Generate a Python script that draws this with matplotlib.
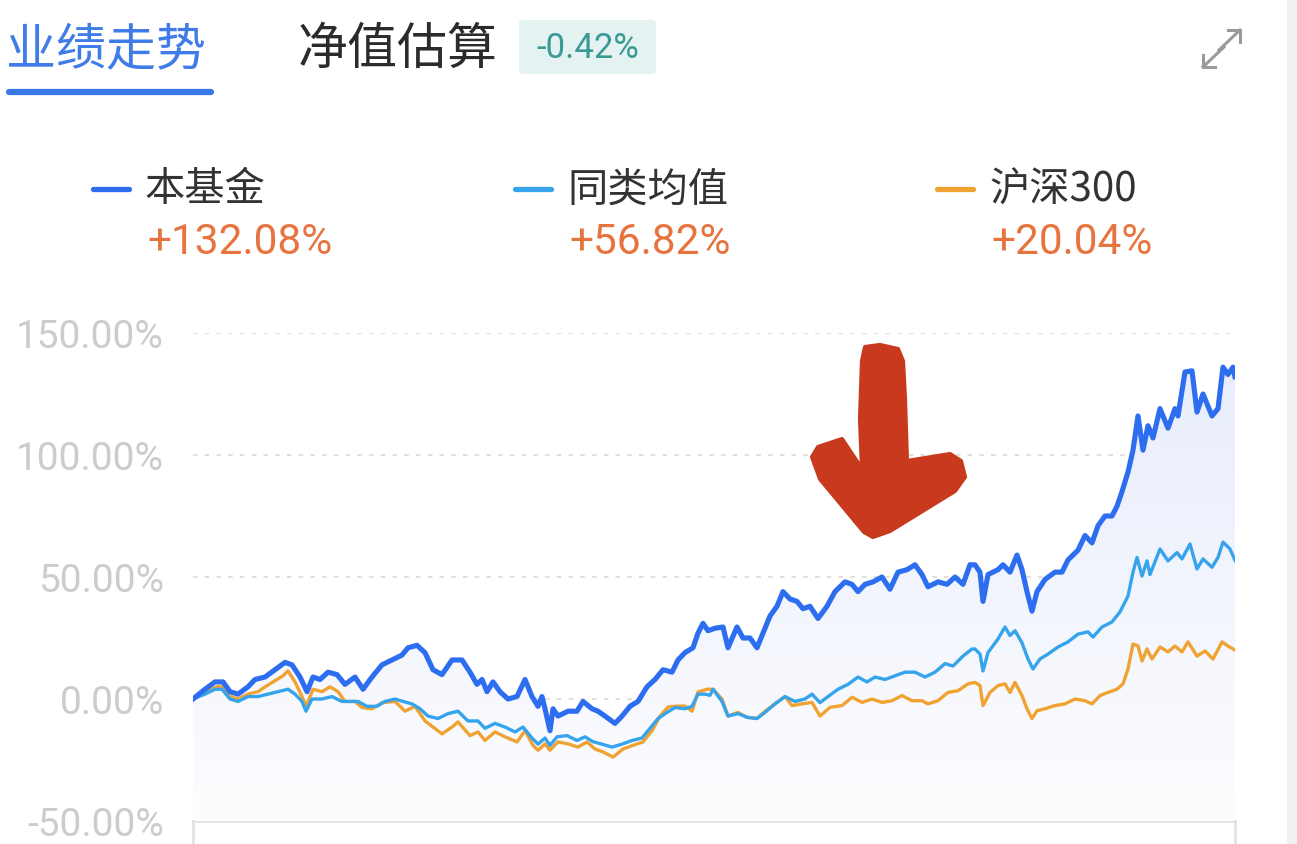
import numpy as np
import matplotlib.pyplot as plt
from matplotlib.colors import LinearSegmentedColormap
from matplotlib.patches import FancyBboxPatch, Polygon
from matplotlib.lines import Line2D

plt.rcParams['font.family'] = ['Noto Sans CJK SC', 'DejaVu Sans']

# (trading day, cumulative return %)
fund = [(0, 0), (12, 4), (22, 7), (30, 7), (37, 3), (45, 2), (55, 5), (62, 8), (72, 9), (82, 12),
        (92, 15), (99, 14), (107, 9), (114, 3), (120, 9), (127, 8), (135, 11), (144, 10), (152, 6),
        (162, 9), (170, 4), (179, 9), (189, 14), (199, 16), (209, 18), (215, 21), (224, 22), (232, 19),
        (240, 12), (249, 10), (259, 16), (269, 16), (277, 11), (284, 6), (289, 8), (294, 3), (300, 7),
        (307, 3), (315, 0), (324, 1), (332, 8), (339, 1), (345, -3), (349, 1), (352, -4), (357, -13),
        (360, -4), (365, -7), (375, -5), (384, -5), (390, -1), (399, -4), (405, -5), (412, -7),
        (422, -10), (429, -7), (437, -3), (445, -1), (454, 5), (462, 8), (470, 12), (479, 11),
        (485, 16), (492, 19), (500, 21), (505, 27), (510, 31), (515, 28), (522, 29), (530, 29.5),
        (535, 21), (544, 29.5), (550, 25), (557, 25), (564, 21), (570, 27), (577, 34), (584, 38),
        (590, 44), (597, 41), (604, 40), (610, 37), (617, 38), (625, 33), (634, 38), (642, 44),
        (652, 48), (659, 47), (665, 44), (672, 47), (680, 48), (689, 50), (697, 45), (705, 52),
        (714, 53), (722, 55), (729, 51), (735, 46), (745, 48), (754, 47), (762, 50), (770, 47),
        (777, 55), (782, 55), (787, 52), (790, 40), (795, 51), (805, 53), (810, 55), (817, 52),
        (824, 59), (829, 53), (834, 44), (839, 36), (844, 44), (852, 49), (862, 52), (869, 52),
        (875, 57), (885, 61), (892, 67), (899, 64), (905, 71), (912, 75), (919, 75), (924, 79),
        (929, 85), (935, 93), (940, 102), (945, 116), (950, 102), (955, 112), (960, 107), (967, 119),
        (975, 111), (982, 119), (985, 116), (992, 134), (999, 134.5), (1004, 117.6), (1010, 125),
        (1019, 116), (1025, 119), (1030, 136), (1035, 133), (1040, 136), (1042, 132.08)]

peer_avg = [(0, 0), (12, 2), (22, 4), (29, 4), (37, 0), (45, -1), (55, 1), (65, 1), (75, 2), (85, 3),
            (95, 4), (102, 2), (109, -1), (113, -5), (119, 0), (129, 0), (139, 1), (149, -1), (159, -1),
            (165, -1), (174, -3), (184, -3), (192, -1), (202, 0), (210, -1), (219, -2), (227, -4),
            (235, -7), (245, -8), (255, -6), (265, -5), (275, -9), (285, -9), (292, -12), (302, -10),
            (312, -11.5), (322, -13.5), (330, -11.5), (339, -16), (345, -18.5), (352, -16), (357, -19),
            (364, -15.5), (374, -15), (384, -17), (392, -15.5), (400, -17.5), (409, -18.5), (419, -19.7),
            (429, -18.5), (439, -17), (449, -16), (457, -12), (465, -8), (474, -5.5), (482, -3.5),
            (492, -4), (499, -3), (505, 2), (512, 2), (517, 1.5), (520, 4), (529, -1), (535, -7),
            (545, -6), (554, -7.5), (564, -8), (572, -5.5), (582, -2), (592, 1), (602, -1), (612, 0),
            (619, 2), (627, -1.5), (635, 1), (645, 4), (655, 6), (665, 9), (674, 7), (682, 9), (692, 8),
            (702, 9.5), (712, 11), (722, 11), (732, 9), (742, 11), (752, 14.5), (760, 13.5), (770, 17.6),
            (779, 20.5), (782, 20.5), (787, 18.4), (790, 11.5), (795, 19), (805, 24.6), (812, 29.5),
            (817, 26), (822, 28), (829, 23), (835, 16.4), (840, 12.3), (847, 16.4), (855, 18.4),
            (865, 21.3), (875, 23.4), (885, 26.6), (895, 27.5), (900, 25.4), (909, 29.5), (919, 31.6),
            (927, 35.7), (935, 42.2), (940, 52), (944, 58), (949, 50.4), (954, 56.6), (957, 51),
            (967, 61.5), (975, 56.6), (984, 60), (989, 57.4), (997, 63.5), (1004, 53.3), (1010, 57.4),
            (1019, 54), (1025, 58), (1030, 64.3), (1037, 61.5), (1042, 56.82)]

hs300 = [(0, 0), (12, 3), (24, 5), (30, 5), (37, 1), (45, 0), (55, 2), (65, 3), (74, 5.5), (82, 7.5),
         (90, 9.5), (95, 11.5), (102, 7), (109, 1), (113, -3), (120, 4), (129, 3), (137, 5), (145, 3),
         (152, -1), (162, -1), (169, -3.5), (179, -4), (189, -1.5), (202, -1), (212, -5), (222, -3),
         (232, -9), (240, -11.5), (249, -14.3), (259, -11.5), (265, -9.4), (277, -15), (285, -13.5),
         (292, -17), (302, -13.5), (312, -15.5), (324, -17.6), (332, -13), (340, -19), (345, -21),
         (352, -18.4), (357, -21), (365, -17.6), (375, -18.4), (385, -19.7), (394, -17.6), (402, -20.5),
         (410, -21.7), (420, -23.8), (430, -20.5), (440, -19), (450, -17.6), (459, -13), (467, -7),
         (475, -3.3), (484, -2.9), (492, -2.9), (499, -5), (505, 2.9), (514, 4), (520, 4), (529, 0),
         (535, -7), (545, -5.5), (554, -7.5), (564, -8), (572, -5), (584, -1.4), (592, 1), (599, -2.7),
         (609, -2), (619, -1.4), (627, -7), (637, -3.4), (649, -2.7), (659, 0.7), (669, -1.4), (679, 0),
         (689, -1.4), (699, -0.7), (709, 1.4), (719, -0.7), (729, -0.7), (735, -2), (745, -0.7),
         (755, 2.7), (765, 3.4), (775, 6.2), (782, 6.8), (787, 5.5), (790, -2.7), (797, 2.7), (805, 5.5),
         (812, 6.2), (817, 2.7), (822, 6.8), (829, 1.4), (834, -4), (839, -8), (844, -4.8), (852, -4),
         (862, -2.7), (872, -2), (882, 0), (892, -0.7), (899, -2), (907, 1.4), (915, 2.7), (924, 4),
         (930, 6.2), (935, 12.3), (940, 22.5), (945, 21.8), (949, 15.6), (954, 20.5), (959, 16.4),
         (967, 21.3), (975, 19.3), (982, 21.7), (989, 19.3), (995, 23.4), (1004, 17.6), (1012, 19.7),
         (1020, 16.4), (1029, 23.4), (1035, 21.7), (1042, 20.04)]

names = ['本基金', '同类均值', '沪深300']
totals = ['+132.08%', '+56.82%', '+20.04%']
colors = ['#2d6df0', '#35a4ec', '#f0a232']
yticks = [-50, 0, 50, 100, 150]
ytick_labels = ['-50.00%', '0.00%', '50.00%', '100.00%', '150.00%']

W, H = 1297, 845
fig = plt.figure(figsize=(W / 100, H / 100), dpi=100)
fig.patch.set_facecolor('white')


def fx(px):
    return px / W


def fy(py):
    return 1 - py / H


ax = fig.add_axes([fx(193), fy(822), fx(1235) - fx(193), fy(334) - fy(822)])
ax.set_xlim(0, 1042)
ax.set_ylim(-50, 150)
for s in ax.spines.values():
    s.set_visible(False)
ax.set_xticks([])
ax.set_yticks(yticks)
ax.set_yticklabels(ytick_labels, fontfamily='Roboto', fontsize=28, color='#cccccc')
ax.tick_params(axis='y', length=0, pad=21)
for v in yticks[1:]:
    ax.axhline(v, color='#dcdcdc', lw=1.3, ls=(0, (2.5, 4)), zorder=0)
ax.axhline(-50, color='#e3e3e6', lw=2, zorder=0, clip_on=False)

fx_t, fx_v = zip(*fund)
pa_t, pa_v = zip(*peer_avg)
hs_t, hs_v = zip(*hs300)

# gradient fill under the fund line
cmap = LinearSegmentedColormap.from_list('fill', ['#fdfdff', '#e7edfb'])
poly = ax.fill_between(fx_t, fx_v, -50, color='none')
grad = np.linspace(0, 1, 256).reshape(-1, 1)
img = ax.imshow(grad, cmap=cmap, aspect='auto', extent=[0, 1042, -50, 140], origin='lower', zorder=1)
img.set_clip_path(poly.get_paths()[0], transform=ax.transData)

ax.plot(hs_t, hs_v, color=colors[2], lw=2.4, zorder=3, solid_joinstyle='round')
ax.plot(pa_t, pa_v, color=colors[1], lw=2.4, zorder=4, solid_joinstyle='round')
ax.plot(fx_t, fx_v, color=colors[0], lw=3.7, zorder=5, solid_joinstyle='round')

# small end ticks on the bottom axis
for px in (193, 1235):
    fig.add_artist(Line2D([fx(px), fx(px)], [fy(822), fy(845)], color='#e3e3e6', lw=2))

# header tabs
fig.text(fx(6), fy(50), '业绩走势', fontsize=36, color='#3f7ce8', va='center', ha='left')
fig.add_artist(Line2D([fx(9), fx(211)], [fy(93), fy(93)], color='#3a78e6', lw=4.5,
                      solid_capstyle='round'))
fig.text(fx(298), fy(50), '净值估算', fontsize=36, color='#2b2b2b', va='center', ha='left')
badge = FancyBboxPatch((fx(519), fy(75)), fx(656) - fx(519), fy(21) - fy(75),
                       boxstyle='round,pad=0,rounding_size=0.004', transform=fig.transFigure,
                       facecolor='#e4f2f2', edgecolor='none')
fig.add_artist(badge)
fig.text(fx(588), fy(49), '-0.42%', fontfamily='Roboto', fontsize=25, color='#3a9a95',
         va='center', ha='center')

# expand icon
icon = '#9a9a9a'
fig.add_artist(Line2D([fx(1219), fx(1240)], [fy(51), fy(31)], color=icon, lw=2.2))
fig.add_artist(Line2D([fx(1228), fx(1240), fx(1240)], [fy(31), fy(31), fy(43)], color=icon, lw=2.2))
fig.add_artist(Line2D([fx(1203), fx(1224)], [fy(68), fy(48)], color=icon, lw=2.2))
fig.add_artist(Line2D([fx(1203), fx(1203), fx(1215)], [fy(56), fy(68), fy(68)], color=icon, lw=2.2))

# legend
leg_x = [93, 515, 937]
for lx, name, total, c in zip(leg_x, names, totals, colors):
    fig.add_artist(Line2D([fx(lx), fx(lx + 36)], [fy(190), fy(190)], color=c, lw=3.8,
                          solid_capstyle='round'))
    fig.text(fx(lx + 52), fy(190), name, fontsize=29, color='#333333', va='center', ha='left')
    fig.text(fx(lx + 54), fy(243), total, fontfamily='Roboto', fontsize=30.5, color='#e7743f',
             va='center', ha='left')

# right scroll strip
fig.add_artist(Polygon([(fx(1287), 0), (1, 0), (1, 1), (fx(1287), 1)], closed=True,
                       transform=fig.transFigure, facecolor='#f1f1f3', edgecolor='none'))

# hand-drawn red arrow
arrow_px = [(865, 348), (880, 346), (898, 350), (903, 362), (905, 400), (907, 462), (950, 455),
            (961, 462), (965, 478), (955, 492), (890, 532), (873, 538), (864, 533), (820, 480),
            (812, 458), (818, 448), (842, 440), (850, 452), (862, 470), (860, 420), (862, 362)]
fig.add_artist(Polygon([(fx(a), fy(b)) for a, b in arrow_px], closed=True, transform=fig.transFigure,
                       facecolor='#c8391d', edgecolor='#c8391d', lw=3, joinstyle='round', zorder=10))

fig.savefig('out.png', dpi=100, facecolor='white')
